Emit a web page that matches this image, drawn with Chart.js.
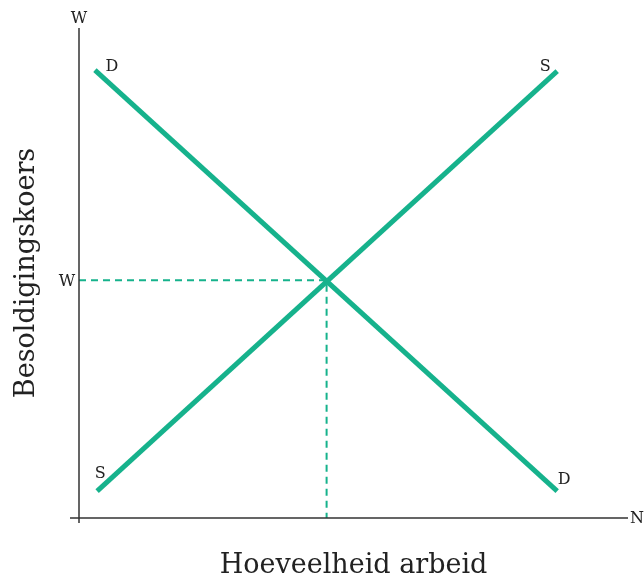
<!DOCTYPE html>
<html>
<head>
<meta charset="utf-8">
<title>Arbeidsmark</title>
<script src="https://cdn.jsdelivr.net/npm/chart.js@4.4.1/dist/chart.umd.min.js"></script>
<style>
    html, body { margin: 0; padding: 0; background: #fff; }
    #wrap { width: 644px; height: 582px; }
</style>
</head>
<body>
<div id="wrap"><canvas id="labourChart" width="644" height="582"></canvas></div>
<script>
// Data (x = hoeveelheid arbeid, y = besoldigingskoers), 0..100 units
const demandX = [2.9, 87.1];
const demandY = [91.4, 5.5];
const supplyX = [3.3, 87.1];
const supplyY = [5.5, 91.2];
const equilibrium = [45.1, 48.5];

// Text
const xTitle = 'Hoeveelheid arbeid';
const yTitle = 'Besoldigingskoers';
const xAxisLabel = 'N';
const yAxisLabel = 'W';
const wageLabel = 'W';
const curveLabels = ['D', 'S', 'S', 'D'];

const green = '#16b28c';
const serif = '"DejaVu Serif", "Liberation Serif", serif';

function toPoints(xs, ys) {
    return xs.map((x, i) => ({ x: x, y: ys[i] }));
}

// Draws axes and text labels relative to the scales
const decorPlugin = {
    id: 'decor',
    afterDatasetsDraw(chart) {
        const ctx = chart.ctx;
        const xs = chart.scales.x;
        const ys = chart.scales.y;
        const x0 = xs.getPixelForValue(0);
        const y0 = ys.getPixelForValue(0);
        const xEnd = xs.getPixelForValue(100);
        const yEnd = ys.getPixelForValue(100);

        ctx.save();
        ctx.strokeStyle = '#333';
        ctx.lineWidth = 1.5;
        ctx.beginPath();
        ctx.moveTo(x0, yEnd);
        ctx.lineTo(x0, y0 + 5);
        ctx.moveTo(x0 - 9, y0);
        ctx.lineTo(xEnd, y0);
        ctx.stroke();

        ctx.fillStyle = '#222';
        ctx.font = '16px ' + serif;
        ctx.textAlign = 'center';
        ctx.textBaseline = 'middle';
        ctx.fillText(yAxisLabel, x0, yEnd - 9);
        ctx.fillText(xAxisLabel, xEnd + 9, y0 + 1);
        ctx.fillText(wageLabel, x0 - 12, ys.getPixelForValue(equilibrium[1]) + 1);

        // curve end labels
        const ends = [
            [demandX[0], demandY[0], 17, -3],
            [supplyX[1], supplyY[1], -12, -4],
            [supplyX[0], supplyY[0], 3, -17],
            [demandX[1], demandY[1], 7, -11]
        ];
        ends.forEach((e, i) => {
            ctx.fillText(curveLabels[i], xs.getPixelForValue(e[0]) + e[2], ys.getPixelForValue(e[1]) + e[3]);
        });

        // axis titles
        ctx.font = '27px ' + serif;
        ctx.fillText(xTitle, (x0 + xEnd) / 2, y0 + 48);
        ctx.save();
        ctx.translate(27, (yEnd + y0) / 2);
        ctx.rotate(-Math.PI / 2);
        ctx.fillText(yTitle, 0, 0);
        ctx.restore();
        ctx.restore();
    }
};

const ctx = document.getElementById('labourChart').getContext('2d');

new Chart(ctx, {
    type: 'scatter',
    data: {
        datasets: [
            {
                label: 'Vraag',
                data: toPoints(demandX, demandY),
                showLine: true,
                borderColor: green,
                borderWidth: 5,
                pointRadius: 0
            },
            {
                label: 'Aanbod',
                data: toPoints(supplyX, supplyY),
                showLine: true,
                borderColor: green,
                borderWidth: 5,
                pointRadius: 0
            },
            {
                label: 'Ewewig',
                data: [
                    { x: 0, y: equilibrium[1] },
                    { x: equilibrium[0], y: equilibrium[1] },
                    { x: equilibrium[0], y: 0 }
                ],
                showLine: true,
                borderColor: green,
                borderWidth: 2,
                borderDash: [7, 5],
                pointRadius: 0
            }
        ]
    },
    options: {
        responsive: false,
        animation: false,
        layout: {
            padding: { left: 79, right: 16, top: 28, bottom: 64 }
        },
        scales: {
            x: { type: 'linear', min: 0, max: 100, display: false },
            y: { type: 'linear', min: 0, max: 100, display: false }
        },
        plugins: {
            legend: { display: false },
            tooltip: { enabled: false }
        }
    },
    plugins: [decorPlugin]
});
</script>
</body>
</html>
